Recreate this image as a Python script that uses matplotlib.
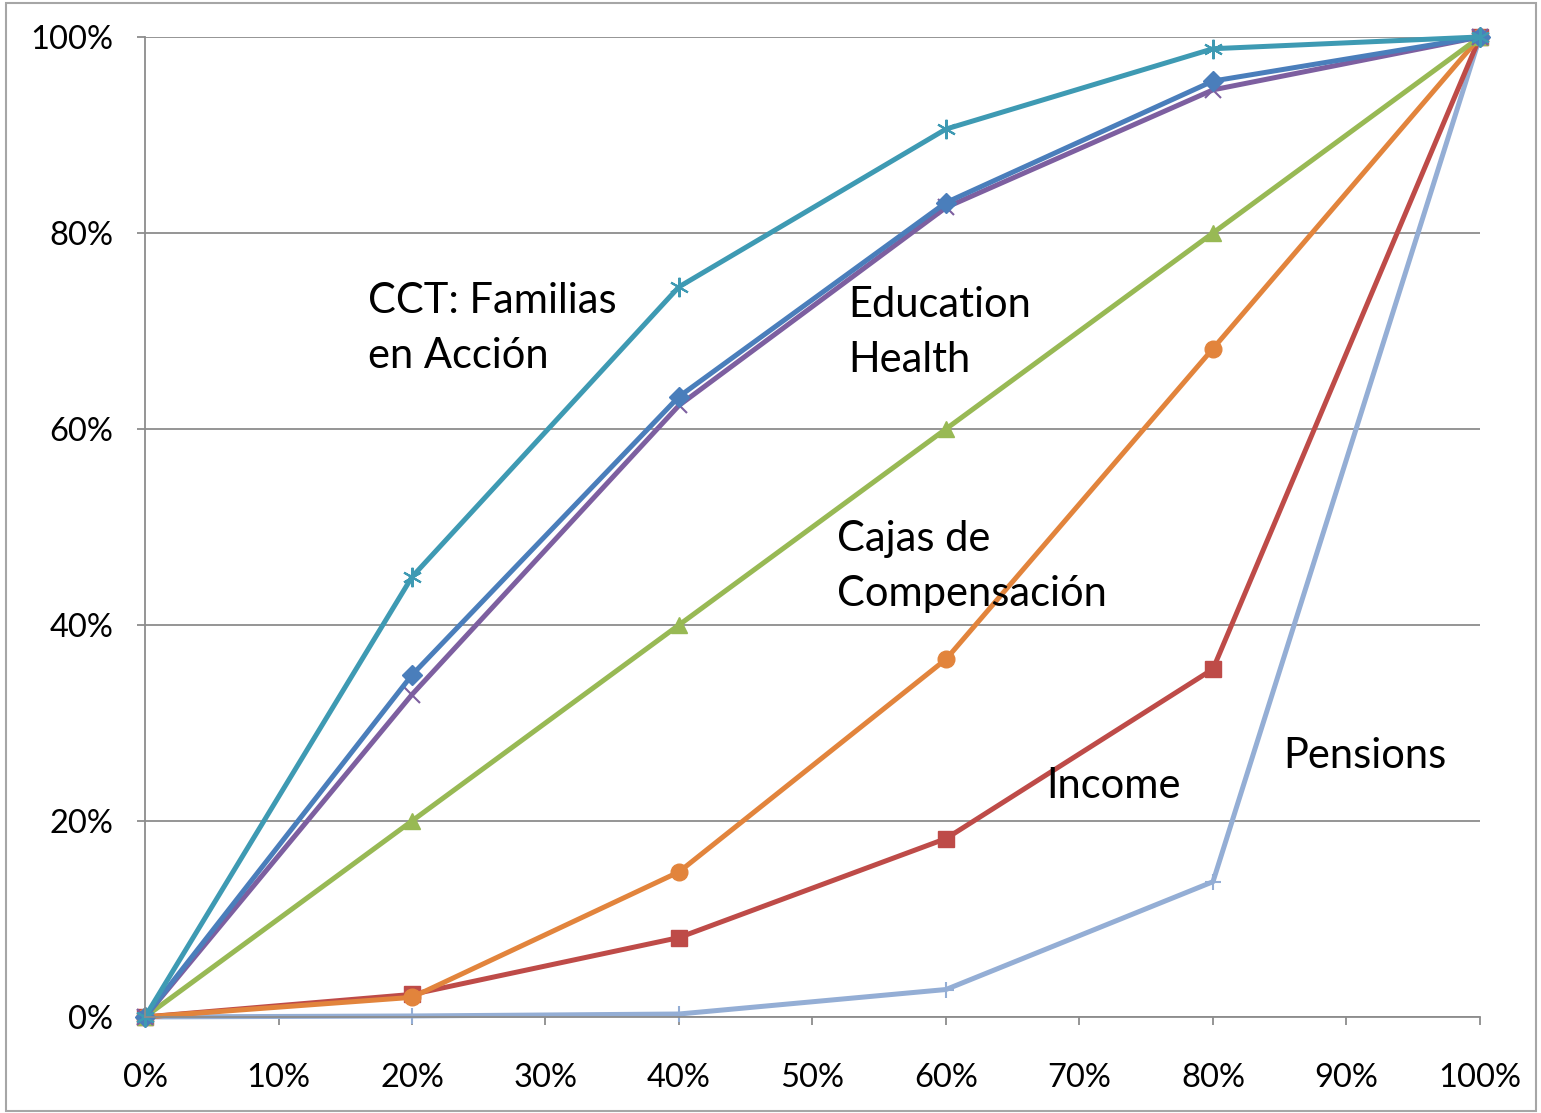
import numpy as np
import matplotlib.pyplot as plt
from matplotlib.patches import Rectangle
from matplotlib.ticker import PercentFormatter

plt.rcParams['font.family'] = ['Lato', 'DejaVu Sans']

# cumulative share of population (x) vs cumulative share of benefits (y), in %
pop = [0, 20, 40, 60, 80, 100]
cct = [0, 44.9, 74.5, 90.6, 98.8, 100]
education = [0, 34.9, 63.3, 83.1, 95.5, 100]
health = [0, 32.9, 62.4, 82.6, 94.6, 100]
cajas = [0, 20, 40, 60, 80, 100]
compensacion = [0, 2.0, 14.8, 36.5, 68.2, 100]
income = [0, 2.3, 8.1, 18.2, 35.5, 100]
pensions = [0, 0.1, 0.3, 2.8, 13.8, 100]

labels = [
    ("CCT: Familias\nen Acción", 16.7, 75.0),
    ("Education\nHealth", 52.7, 74.6),
    ("Cajas de\nCompensación", 51.8, 50.7),
    ("Income", 67.5, 25.5),
    ("Pensions", 85.3, 28.6),
]

fig = plt.figure(figsize=(15.41, 11.13), dpi=100)
ax = fig.add_axes([0.0941, 0.0863, 0.8663, 0.8805])
fig.patches.append(Rectangle((0.004, 0.002), 0.993, 0.995, transform=fig.transFigure,
                             fill=False, edgecolor='#a6a6a6', linewidth=1.5))

lw = 3.6
ax.plot(pop, pensions, color='#94AED5', lw=lw, marker='+', ms=12, mew=1.5, clip_on=False)
ax.plot(pop, income, color='#BE4B48', lw=lw, marker='s', ms=11, clip_on=False)
ax.plot(pop, compensacion, color='#E2843C', lw=lw, marker='o', ms=12, clip_on=False)
ax.plot(pop, cajas, color='#98B954', lw=lw, marker='^', ms=12, clip_on=False)
ax.plot(pop, health, color='#7D5FA0', lw=lw, marker='x', ms=11, mew=1.5, clip_on=False)
ax.plot(pop, education, color='#4A7EBB', lw=lw, marker='D', ms=10, clip_on=False)
ax.plot(pop, cct, color='#3E9AB3', lw=lw, marker=(6, 2, 0), ms=14, mew=1.5, clip_on=False)

for txt, x, y in labels:
    ax.text(x, y, txt, fontsize=30, va='top', ha='left', linespacing=1.55)

ax.set_xlim(0, 100)
ax.set_ylim(0, 100)
ax.set_xticks(np.arange(0, 101, 10))
ax.set_yticks(np.arange(0, 101, 20))
ax.xaxis.set_major_formatter(PercentFormatter(decimals=0))
ax.yaxis.set_major_formatter(PercentFormatter(decimals=0))
ax.grid(axis='y', color='#8c8c8c', lw=1.3)
ax.set_axisbelow(True)
for s in ['top', 'right']:
    ax.spines[s].set_visible(False)
for s in ['left', 'bottom']:
    ax.spines[s].set_color('#8c8c8c')
    ax.spines[s].set_linewidth(1.3)
ax.tick_params(labelsize=23.5, length=6, width=1.3, color='#8c8c8c')
ax.tick_params(axis='x', pad=27)
ax.tick_params(axis='y', pad=17)

fig.savefig('out.png', dpi=100)
